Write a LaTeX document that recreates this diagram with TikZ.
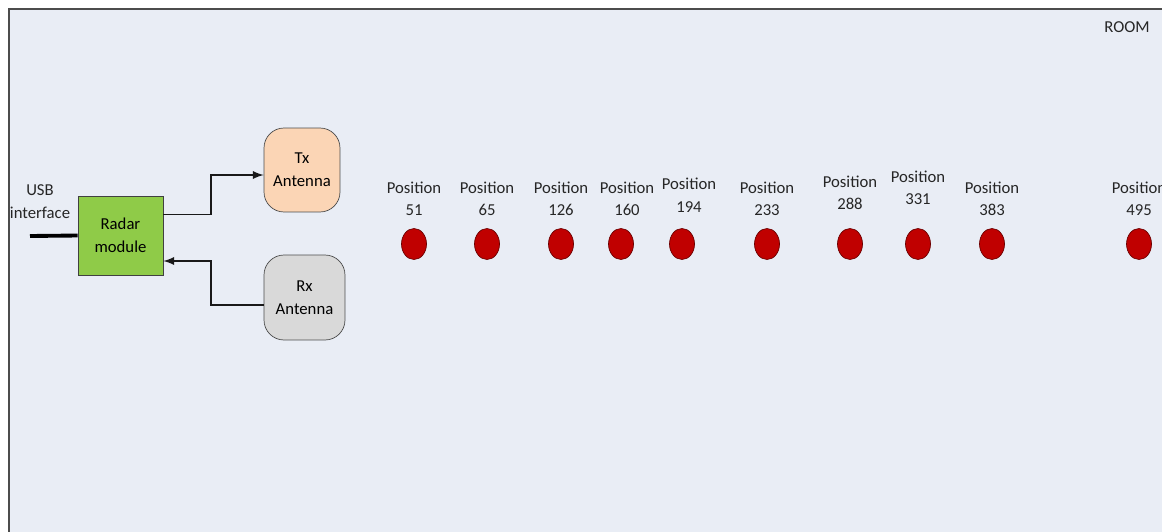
\documentclass[tikz,border=0pt]{standalone}
\usepackage{fontspec}
\setmainfont{Carlito}
\usepackage{tikz}
\usetikzlibrary{positioning}
\usetikzlibrary{shapes.geometric}
\definecolor{roombg}{HTML}{E9EDF5}
\definecolor{radargreen}{HTML}{8FCB48}
\definecolor{txpeach}{HTML}{FBD5B5}
\definecolor{rxgray}{HTML}{D9D9D9}
\definecolor{dotred}{HTML}{C00000}
\definecolor{dotedge}{HTML}{6B0000}

\begin{document}
\begin{tikzpicture}[
    x=0.02cm, y=-0.02cm,
    font=\fontsize{9.5}{13}\selectfont,
    radarbox/.style={draw=black!75,fill=radargreen,minimum width=1.7cm,minimum height=1.58cm,align=center,inner sep=1pt},
    antenna/.style={draw=black!70,rounded corners=0.4cm,align=center,inner sep=1pt},
    posdot/.style={draw=dotedge,fill=dotred,ellipse,minimum width=0.5cm,minimum height=0.62cm,inner sep=0pt},
    poslabel/.style={align=center,inner sep=1pt,text=black!85},
    arr/.style={draw=black!90,-latex,line width=1.1pt}
    ]

    \useasboundingbox (0,0) rectangle (1162,531);
    \draw[draw=black!70,fill=roombg,line width=1.2pt] (9,9) rectangle (1180,550);
    \node[text=black!85] (room) at (1127,27) {ROOM};

    \node[radarbox] (radar) at (120.5,235.5) {Radar\\module};
    \node[antenna, fill=txpeach, minimum width=1.52cm, minimum height=1.68cm] (tx) at (302,170) {Tx\\Antenna};
    \node[antenna, fill=rxgray, minimum width=1.62cm, minimum height=1.7cm] (rx) at (304.5,297.5) {Rx\\Antenna};
    \node[align=center,inner sep=1pt,text=black!85] (usb) at (40,202) {USB\\interface};
    \coordinate (usbend) at (30,236);

    \draw[line width=2.2pt] (usbend) -- (radar.west);
    \draw[arr] ([yshift=0.42cm]radar.east) -- ++(48,0) |- ([yshift=-0.1cm]tx.west);
    \draw[arr] ([yshift=-0.15cm]rx.west) -- ++(-53,0) |- ([yshift=-0.51cm]radar.east);

    % positions in the room
    \node[posdot] (p51) at (414,244) {};
    \node[posdot] (p65) at (487,244) {};
    \node[posdot] (p126) at (561,244) {};
    \node[posdot] (p160) at (621,244) {};
    \node[posdot] (p194) at (682,244) {};
    \node[posdot] (p233) at (767,244) {};
    \node[posdot] (p288) at (850,244) {};
    \node[posdot] (p331) at (918,244) {};
    \node[posdot] (p383) at (992,244) {};
    \node[posdot] (p495) at (1139,244) {};

    \node[poslabel, above=0.2cm of p51] (l51) {Position\\51};
    \node[poslabel, above=0.2cm of p65] (l65) {Position\\65};
    \node[poslabel, above=0.2cm of p126] (l126) {Position\\126};
    \node[poslabel, above=0.2cm of p160, xshift=0.12cm] (l160) {Position\\160};
    \node[poslabel, above=0.28cm of p194, xshift=0.14cm] (l194) {Position\\194};
    \node[poslabel, above=0.2cm of p233] (l233) {Position\\233};
    \node[poslabel, above=0.32cm of p288] (l288) {Position\\288};
    \node[poslabel, above=0.42cm of p331] (l331) {Position\\331};
    \node[poslabel, above=0.2cm of p383] (l383) {Position\\383};
    \node[poslabel, above=0.2cm of p495] (l495) {Position\\495};

  \end{tikzpicture}
\end{document}
